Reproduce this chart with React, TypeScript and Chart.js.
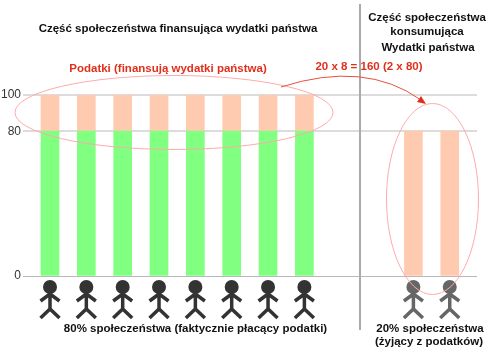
import React, { useEffect, useRef } from "react";
import { Chart, registerables } from "chart.js";

Chart.register(...registerables);

const payerPositions = [1, 2, 3, 4, 5, 6, 7, 8];
const consumerPositions = [11, 12];
const payerAfterTax = [80, 80, 80, 80, 80, 80, 80, 80];
const payerTax = [20, 20, 20, 20, 20, 20, 20, 20];
const consumerReceived = [80, 80];
const yTicks = [0, 80, 100];

const FONT = "Liberation Sans";
const RED = "#e0301c";
const GREEN = "#80ff80";
const PEACH = "#ffcbb0";

function figure(ctx: CanvasRenderingContext2D, x: number, color: string) {
  ctx.save();
  ctx.strokeStyle = color;
  ctx.fillStyle = color;
  ctx.lineWidth = 3.5;
  ctx.lineCap = "butt";
  ctx.beginPath();
  ctx.arc(x, 287, 7, 0, Math.PI * 2);
  ctx.fill();
  ctx.beginPath();
  ctx.moveTo(x, 290);
  ctx.lineTo(x, 309);
  ctx.moveTo(x - 9.5, 301);
  ctx.lineTo(x, 294);
  ctx.lineTo(x + 9.5, 301);
  ctx.moveTo(x - 9.5, 318);
  ctx.lineTo(x, 309);
  ctx.lineTo(x + 9.5, 318);
  ctx.stroke();
  ctx.restore();
}

const overlay = {
  id: "overlay",
  afterDatasetsDraw(chart: any) {
    const { ctx, scales } = chart;
    const xs = scales.x;
    payerPositions.forEach((v) => figure(ctx, xs.getPixelForValue(v), "#333333"));
    consumerPositions.forEach((v) => figure(ctx, xs.getPixelForValue(v), "#666666"));

    ctx.save();
    ctx.strokeStyle = "#aaaaaa";
    ctx.lineWidth = 2;
    ctx.beginPath();
    ctx.moveTo(360, 4);
    ctx.lineTo(360, 330);
    ctx.stroke();

    ctx.strokeStyle = "#ffaaaa";
    ctx.lineWidth = 1;
    ctx.beginPath();
    ctx.ellipse(174, 112.5, 159, 37, 0, 0, Math.PI * 2);
    ctx.stroke();
    ctx.beginPath();
    ctx.ellipse(432.5, 199, 46, 95.5, 0, 0, Math.PI * 2);
    ctx.stroke();

    ctx.strokeStyle = "#e8503c";
    ctx.beginPath();
    ctx.moveTo(281, 87);
    ctx.quadraticCurveTo(365, 60, 421, 100);
    ctx.stroke();
    ctx.fillStyle = RED;
    ctx.beginPath();
    ctx.moveTo(426, 104);
    ctx.lineTo(417, 102);
    ctx.lineTo(421, 96);
    ctx.closePath();
    ctx.fill();

    ctx.textBaseline = "middle";
    ctx.textAlign = "center";
    ctx.font = `bold 11.5px "${FONT}"`;
    ctx.fillStyle = "#111111";
    ctx.fillText("Część społeczeństwa finansująca wydatki państwa", 178, 29);
    ctx.fillText("Część społeczeństwa", 427, 18);
    ctx.fillText("konsumująca", 427, 32);
    ctx.fillText("Wydatki państwa", 428, 48);
    ctx.fillText("80% społeczeństwa (faktycznie płacący podatki)", 195.5, 329);
    ctx.fillText("20% społeczeństwa", 430, 329);
    ctx.fillText("(żyjący z podatków)", 429, 342);
    ctx.fillStyle = RED;
    ctx.fillText("Podatki (finansują wydatki państwa)", 168, 69);
    ctx.fillText("20 x 8 = 160 (2 x 80)", 369, 67);
    ctx.restore();
  },
};

export default function App() {
  const ref = useRef<HTMLCanvasElement>(null);
  useEffect(() => {
    document.body.style.margin = "0";
    const chart = new Chart(ref.current!, {
      type: "bar",
      data: {
        datasets: [
          {
            label: "Po podatkach",
            data: payerPositions.map((x, i) => ({ x, y: payerAfterTax[i] })),
            backgroundColor: GREEN,
            stack: "s",
          },
          {
            label: "Podatki",
            data: payerPositions.map((x, i) => ({ x, y: payerTax[i] })),
            backgroundColor: PEACH,
            stack: "s",
          },
          {
            label: "Z podatków",
            data: consumerPositions.map((x, i) => ({ x, y: consumerReceived[i] })),
            backgroundColor: PEACH,
            stack: "s",
          },
        ],
      },
      plugins: [overlay],
      options: {
        animation: false,
        responsive: false,
        devicePixelRatio: 1,
        layout: { padding: { top: 95, bottom: 76, left: 0, right: 12 } },
        plugins: { legend: { display: false }, tooltip: { enabled: false } },
        datasets: { bar: { barThickness: 18, grouped: false } },
        scales: {
          x: {
            type: "linear",
            offset: false,
            min: 0.257,
            max: 12.75,
            display: false,
            grid: { display: false, offset: false },
          },
          y: {
            stacked: true,
            min: 0,
            max: 100,
            afterBuildTicks: (axis: any) => {
              axis.ticks = yTicks.map((value) => ({ value }));
            },
            afterFit: (axis: any) => {
              axis.width = 23;
            },
            border: { display: false },
            grid: {
              color: (c: any) => (c.tick.value === 0 ? "#b8b8b8" : "#dcdcdc"),
              lineWidth: (c: any) => (c.tick.value === 0 ? 1 : 2),
              tickLength: 0,
            },
            ticks: {
              padding: 2,
              color: "#333333",
              font: { family: FONT, size: 12 },
            },
          },
        },
      } as any,
    });
    return () => chart.destroy();
  }, []);
  return <canvas ref={ref} width={489} height={352} style={{ display: "block" }} />;
}
